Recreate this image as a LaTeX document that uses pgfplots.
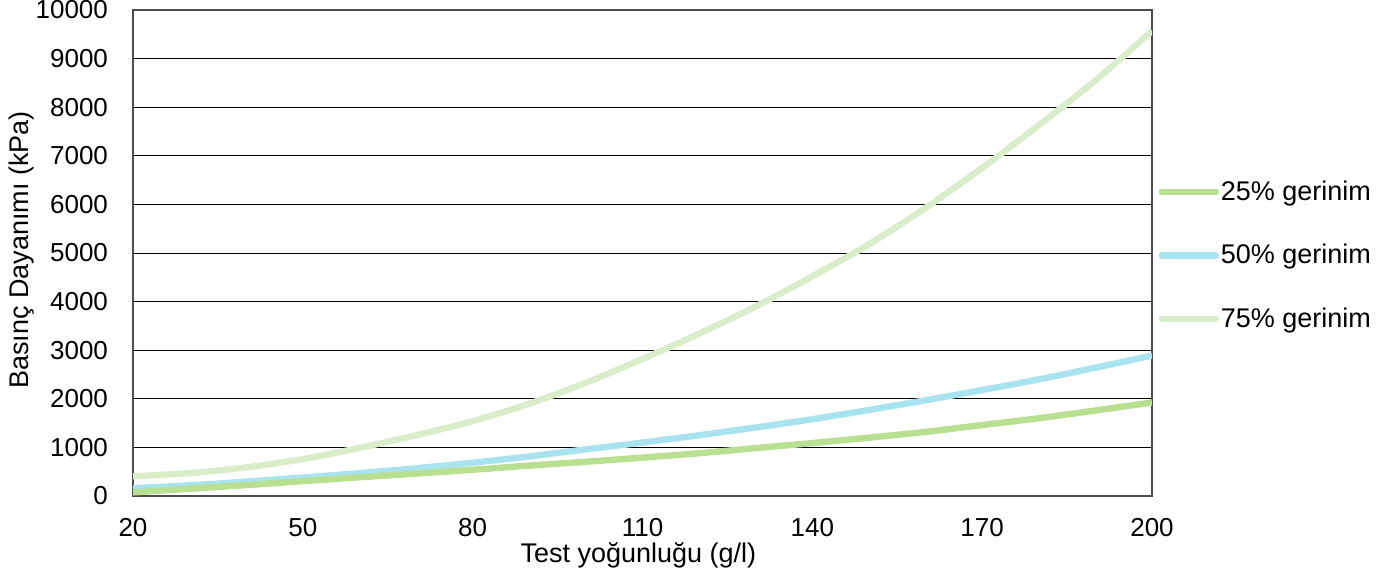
\documentclass[border=0pt]{standalone}
\usepackage{fontspec}
\setmainfont{Liberation Sans}
\usepackage{pgfplots}
\pgfplotsset{compat=1.18}

\definecolor{gA}{HTML}{B9DF91}
\definecolor{bB}{HTML}{AAE3F0}
\definecolor{gC}{HTML}{D9EDCB}

\begin{document}
\begin{tikzpicture}
\begin{axis}[
    name=ax,
    scale only axis,
    width=509.5pt, height=243pt,
    xmin=20, xmax=200, ymin=0, ymax=10000,
    xtick={20,50,80,110,140,170,200},
    ytick={0,1000,...,10000},
    /pgf/number format/assume math mode=true,
    /pgf/number format/1000 sep={},
    scaled y ticks=false,
    tick style={draw=none},
    ymajorgrids,
    grid style={black, line width=0.5pt},
    axis line style={black!70, line width=0.6pt},
    ticklabel style={font=\fontsize{13}{15}\selectfont},
    xticklabel style={yshift=-7.5pt},
    yticklabel style={xshift=-9pt},
    label style={font=\fontsize{13.5}{15}\selectfont},
    xlabel={Test yoğunluğu (g/l)},
    ylabel={Basınç Dayanımı (kPa)},
    xlabel style={at={(axis description cs:0.496,-0.1214)}, anchor=center},
    ylabel style={at={(axis description cs:-0.1089,0.506)}, anchor=center},
    legend style={draw=none, fill=none, at={(1.006,0.495)}, anchor=west,
        inner xsep=0pt,
        font=\fontsize{13.5}{15}\selectfont, row sep=18.5pt,
        nodes={inner sep=1pt}},
    legend cell align=left,
    legend image code/.code={\draw[#1, line cap=round] (0pt,0pt) -- (27pt,0pt);},
    every axis plot/.append style={line width=3.2pt, smooth},
]
\addplot[gC, forget plot] coordinates {
 (20,405) (30,470) (40,590) (50,760) (60,990) (70,1250) (80,1540)
 (90,1900) (100,2330) (110,2820) (120,3340) (130,3900) (140,4520)
 (150,5180) (160,5930) (170,6750) (180,7630) (190,8550) (200,9570)};
\addplot[bB, forget plot] coordinates {
 (20,160) (30,220) (40,295) (50,380) (60,470) (70,570) (80,685)
 (90,815) (100,960) (110,1100) (120,1250) (130,1410) (140,1580)
 (150,1770) (160,1970) (170,2180) (180,2400) (190,2640) (200,2890)};
\addplot[gA, forget plot] coordinates {
 (20,75) (30,150) (40,225) (50,305) (60,385) (70,460) (80,540)
 (90,625) (100,705) (110,790) (120,880) (130,985) (140,1090)
 (150,1200) (160,1320) (170,1460) (180,1600) (190,1760) (200,1925)};
\addlegendimage{gA, line width=3.2pt}
\addlegendentry{25\% gerinim}
\addlegendimage{bB, line width=3.2pt}
\addlegendentry{50\% gerinim}
\addlegendimage{gC, line width=3.2pt}
\addlegendentry{75\% gerinim}
\end{axis}
\pgfresetboundingbox
\useasboundingbox (ax.south west) ++(-66.5pt,-41.5pt) rectangle ++(697.5pt,289.5pt);
\end{tikzpicture}
\end{document}
